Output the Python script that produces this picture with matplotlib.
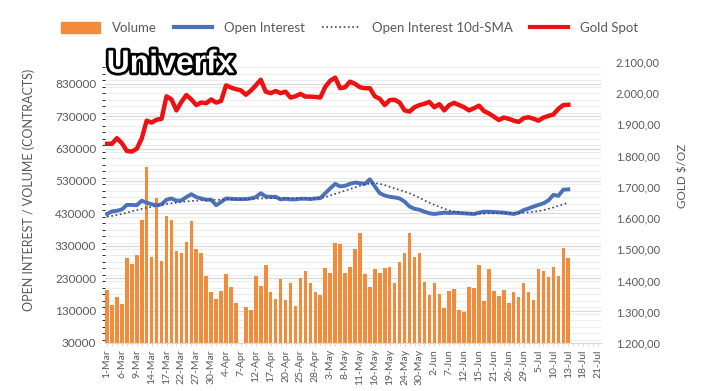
import numpy as np
import matplotlib
matplotlib.use('Agg')
from matplotlib import pyplot as plt
from matplotlib.lines import Line2D
from matplotlib.patches import Patch
from matplotlib.ticker import FuncFormatter, MultipleLocator
import matplotlib.patheffects as pe

plt.rcParams['font.family'] = ['Lato', 'DejaVu Sans']

# trading days 1-Mar .. 21-Jul, one label every 3rd day
tick_labels = ['1-Mar', '6-Mar', '9-Mar', '14-Mar', '17-Mar', '22-Mar', '27-Mar', '30-Mar',
               '4-Apr', '7-Apr', '12-Apr', '17-Apr', '20-Apr', '25-Apr', '28-Apr', '3-May',
               '8-May', '11-May', '16-May', '19-May', '24-May', '30-May', '2-Jun', '7-Jun',
               '12-Jun', '15-Jun', '21-Jun', '26-Jun', '29-Jun', '5-Jul', '10-Jul', '13-Jul',
               '18-Jul', '21-Jul']
n_days = 100

# thousands of contracts
volume = [194, 147, 173, 150, 293, 274, 302, 410, 574, 296, 478, 284, 423, 410, 315, 307,
          341, 407, 319, 307, 237, 186, 167, 191, 243, 204, 152, np.nan, 142, 132, 237, 207,
          271, 187, 166, 226, 164, 214, 144, 230, 252, 214, 186, 178, 261, 245, 339, 335,
          245, 265, 319, 370, 242, 204, 258, 247, 261, 265, 214, 281, 309, 370, 296, 309,
          219, 178, 214, 182, 137, 191, 198, 131, 126, 204, 201, 272, 159, 258, 191, 176,
          194, 153, 187, 172, 216, 187, 163, 258, 252, 234, 265, 237, 323, 293]
open_interest = [428, 436, 438, 442, 456, 456, 455, 469, 463, 458, 455, 458, 472, 476, 469, 470,
                 480, 489, 480, 476, 472, 472, 455, 465, 476, 475, 474, 474, 474, 476, 480, 492,
                 482, 481, 481, 473, 475, 473, 473, 475, 475, 474, 476, 477, 492, 507, 521, 513,
                 515, 521, 525, 523, 521, 535, 513, 492, 485, 481, 479, 476, 466, 451, 444, 441,
                 435, 430, 428, 430, 432, 431, 432, 431, 430, 429, 428, 432, 435, 435, 434, 433,
                 432, 430, 428, 432, 440, 445, 451, 456, 461, 470, 487, 484, 503, 504]
oi_sma = [420, 422, 425, 428, 432, 436, 440, 444, 447, 450, 453, 456, 459, 461, 463, 465,
          467, 468, 469, 470, 471, 472, 472, 472, 473, 473, 473, 473, 474, 474, 475, 476,
          476, 477, 477, 477, 477, 477, 477, 476, 476, 476, 476, 477, 480, 485, 490, 495,
          500, 505, 510, 515, 519, 522, 523, 521, 517, 512, 507, 502, 497, 492, 485, 478,
          470, 463, 456, 450, 444, 439, 435, 433, 431, 430, 429, 429, 429, 430, 430, 431,
          431, 431, 431, 431, 432, 433, 435, 437, 440, 444, 448, 453, 458, 463]
gold = [1838, 1838, 1856, 1840, 1815, 1813, 1822, 1855, 1912, 1906, 1915, 1918, 1990, 1980,
        1945, 1972, 1994, 1980, 1962, 1970, 1968, 1980, 1970, 1975, 2025, 2018, 2013, 2009,
        1995, 2008, 2025, 2043, 2005, 2000, 2007, 2000, 2005, 1986, 1990, 1998, 1989, 1989,
        1988, 1986, 2020, 2040, 2050, 2016, 2019, 2037, 2030, 2019, 2016, 2016, 1990, 1982,
        1962, 1978, 1979, 1970, 1945, 1941, 1955, 1962, 1966, 1972, 1955, 1965, 1945, 1962,
        1969, 1962, 1955, 1945, 1952, 1960, 1943, 1935, 1925, 1914, 1922, 1918, 1912, 1908,
        1920, 1923, 1918, 1912, 1922, 1927, 1932, 1950, 1962, 1963]

orange = '#F28C3A'
blue = '#4A72B8'
red = '#EE1111'
purple = '#473A85'
txt = '#595959'

fig = plt.figure(figsize=(7.11, 3.91), dpi=100)
ax = fig.add_axes([0.147, 0.1228, 0.6976, 0.7187])
ax2 = ax.twinx()

x = np.arange(len(volume))
ax.bar(x, np.array(volume) * 1000, width=0.72, color=orange, zorder=2)
ax.plot(x, np.array(open_interest) * 1000, color=blue, lw=2.8, zorder=3)
ax.plot(x, np.array(oi_sma) * 1000, color=purple, lw=1.2, ls=(0, (1, 1.6)), zorder=4)
ax2.plot(x, gold, color=red, lw=3.2, zorder=3)

ax.set_xlim(-0.5, n_days - 0.5)
ax.set_ylim(30000, 897000)
ax.set_yticks(np.arange(30000, 830001, 100000))
ax.yaxis.set_minor_locator(MultipleLocator(20000))
ax.grid(axis='y', which='major', color='#d9d9d9', lw=0.9, zorder=0)
ax.grid(axis='y', which='minor', color='#ececec', lw=0.8, zorder=0)
ax.set_axisbelow(True)

ax2.set_ylim(1200, 2100)
ax2.set_yticks(np.arange(1200, 2101, 100))
ax2.yaxis.set_major_formatter(FuncFormatter(lambda v, p: f'{v:,.2f}'.replace(',', 'X').replace('.', ',').replace('X', '.')))

ax.set_xticks(np.arange(0, n_days, 3))
ax.set_xticklabels(tick_labels, rotation=90, fontsize=7.5, color=txt)
ax.set_xticks(np.arange(n_days), minor=True)
ax.tick_params(axis='x', which='both', length=2.5, color='#d9d9d9', pad=2)
ax.tick_params(axis='y', length=0, labelsize=8.5, labelcolor=txt, pad=6)
ax2.tick_params(axis='y', length=0, labelsize=8, labelcolor=txt, pad=11)

for a in (ax, ax2):
    for s in a.spines.values():
        s.set_visible(False)
ax.spines['bottom'].set_visible(True)
ax.spines['bottom'].set_color('#d9d9d9')

fig.text(0.04, 0.515, 'OPEN INTEREST / VOLUME (CONTRACTS)', rotation=90, ha='center', va='center',
         fontsize=9, color=txt)
fig.text(0.961, 0.55, 'GOLD $/OZ', rotation=90, ha='center', va='center', fontsize=8.5, color=txt)

fig.text(0.15, 0.835, 'Univerfx', fontsize=23, fontweight='bold', color='white',
         family='Liberation Sans', ha='left', va='center',
         path_effects=[pe.withStroke(linewidth=4, foreground='black')])

handles = [Patch(color=orange),
           Line2D([], [], color=blue, lw=3),
           Line2D([], [], color=purple, lw=1.2, ls=(0, (1, 1.6))),
           Line2D([], [], color=red, lw=3)]
labels = ['Volume', 'Open Interest', 'Open Interest 10d-SMA', 'Gold Spot']
fig.legend(handles, labels, loc='center', bbox_to_anchor=(0.492, 0.928), ncol=4, frameon=False,
           fontsize=9.5, labelcolor=txt, handlelength=2.9, handleheight=0.9, columnspacing=1.3,
           handletextpad=0.9)

plt.savefig('out.png', dpi=100)
